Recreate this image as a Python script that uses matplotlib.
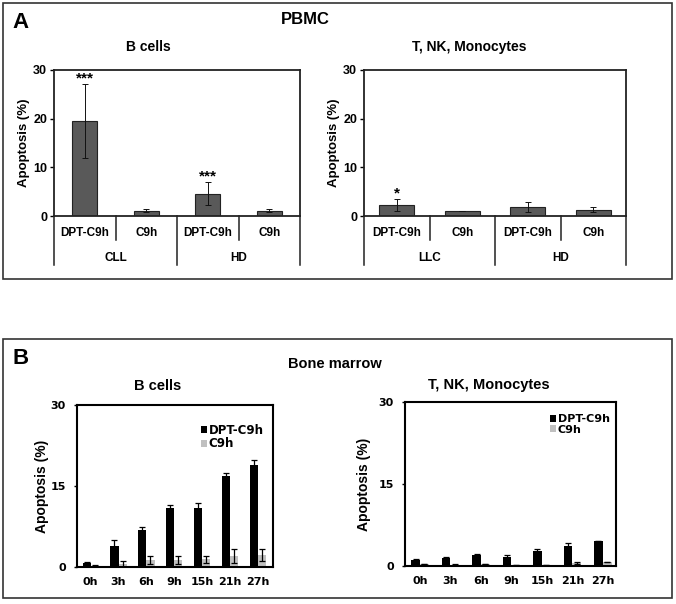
import matplotlib
matplotlib.use("Agg")
import matplotlib.pyplot as plt
from matplotlib.patches import Rectangle
import numpy as np

# ---------------- data ----------------
a_sub = ["DPT-C9h", "C9h", "DPT-C9h", "C9h"]
a_left_groups = ["CLL", "HD"]
a_right_groups = ["LLC", "HD"]
a_left_vals = [19.6, 1.1, 4.6, 1.1]
a_left_err = [7.6, 0.3, 2.3, 0.3]
a_left_stars = ["***", "", "***", ""]
a_right_vals = [2.2, 1.0, 1.8, 1.3]
a_right_err = [1.2, 0.0, 1.0, 0.5]
a_right_stars = ["*", "", "", ""]

times = ["0h", "3h", "6h", "9h", "15h", "21h", "27h"]
b_left_dpt = [0.8, 3.9, 6.9, 10.9, 10.9, 16.8, 18.8]
b_left_dpt_err = [0.1, 1.1, 0.6, 0.5, 1.0, 0.6, 1.1]
b_left_c9 = [0.2, 0.5, 1.3, 1.3, 1.4, 2.1, 2.3]
b_left_c9_err = [0.1, 0.6, 0.8, 0.7, 0.7, 1.3, 1.1]
b_right_dpt = [1.1, 1.5, 2.0, 1.7, 2.7, 3.7, 4.6]
b_right_dpt_err = [0.1, 0.1, 0.2, 0.3, 0.4, 0.5, 0.0]
b_right_c9 = [0.3, 0.2, 0.3, 0.2, 0.2, 0.5, 0.7]
b_right_c9_err = [0.0, 0.2, 0.0, 0.0, 0.0, 0.2, 0.0]

W, H = 676, 604
fig = plt.figure(figsize=(W / 100, H / 100), dpi=100)

def rect(x0, y0, x1, y1):
    return [x0 / W, 1 - y1 / H, (x1 - x0) / W, (y1 - y0) / H]

def fx(x):
    return x / W

def fy(y):
    return 1 - y / H

ARIAL = ["Liberation Sans", "DejaVu Sans"]
VERD = ["DejaVu Sans"]

# panel boxes
for (x0, y0, x1, y1) in [(3, 3, 672, 279), (3, 339, 672, 598)]:
    fig.patches.append(Rectangle((fx(x0), fy(y1)), fx(x1 - x0), (y1 - y0) / H,
                                 transform=fig.transFigure, fill=False,
                                 edgecolor="#333333", lw=1.2))

fig.text(fx(12), fy(22), "A", fontsize=16, fontweight="bold", family=ARIAL, va="center")
fig.text(fx(305), fy(19), "PBMC", fontsize=12, fontweight="bold", family=ARIAL,
         ha="center", va="center")
fig.text(fx(12), fy(358), "B", fontsize=16, fontweight="bold", family=ARIAL, va="center")
fig.text(fx(335), fy(364), "Bone marrow", fontsize=10.5, fontweight="bold", family=ARIAL,
         ha="center", va="center")


def panel_a(r, vals, errs, stars, groups, width, title, title_xy, ylab_x):
    ax = fig.add_axes(rect(*r))
    x = np.arange(len(vals))
    ax.bar(x, vals, width=width, color="#595959", edgecolor="#222222", lw=0.8, zorder=2)
    ax.errorbar(x, vals, yerr=errs, fmt="none", ecolor="#111111", elinewidth=0.7,
                capsize=2.2, capthick=0.7, zorder=3)
    for xi, v, e, s in zip(x, vals, errs, stars):
        if s:
            ax.annotate(s, (xi, v + e), xytext=(0, 4), textcoords="offset points",
                        ha="center", va="center", fontsize=11, fontweight="bold",
                        family=ARIAL)
    ax.set_xlim(-0.5, len(vals) - 0.5)
    ax.set_ylim(0, 30)
    ax.set_yticks([0, 10, 20, 30])
    ax.set_yticklabels(["0", "10", "20", "30"], family=ARIAL, fontweight="bold", fontsize=9)
    ax.set_xticks([])
    for sp in ax.spines.values():
        sp.set_linewidth(1.3)
        sp.set_color("#222222")
    ax.tick_params(axis="y", length=3, width=1, pad=2)
    tr = ax.get_xaxis_transform()
    hpx = r[3] - r[1]
    for xs in [0.5, 2.5]:
        ax.plot([xs, xs], [0, -24 / hpx], transform=tr, color="#222222", lw=1.1, clip_on=False)
    for xs in [-0.5, 1.5, 3.5]:
        ax.plot([xs, xs], [0, -49 / hpx], transform=tr, color="#222222", lw=1.1, clip_on=False)
    for xi, lab in zip(x, a_sub):
        ax.text(xi, -17 / hpx, lab, transform=tr, ha="center", va="center",
                fontsize=8.5, fontweight="bold", family=ARIAL)
    for gi, g in enumerate(groups):
        ax.text(2 * gi + 0.5, -42 / hpx, g, transform=tr, ha="center", va="center",
                fontsize=8.5, fontweight="bold", family=ARIAL)
    fig.text(fx(title_xy[0]), fy(title_xy[1]), title, fontsize=10, fontweight="bold",
             family=ARIAL, ha="center", va="center")
    fig.text(fx(ylab_x), fy((r[1] + r[3]) / 2), "Apoptosis (%)", rotation=90,
             fontsize=9.5, fontweight="bold", family=ARIAL, ha="center", va="center")
    return ax


panel_a((54, 70, 300, 216), a_left_vals, a_left_err, a_left_stars, a_left_groups, 0.4,
        "B cells", (148, 47), 24)
panel_a((364, 70, 626, 216), a_right_vals, a_right_err, a_right_stars, a_right_groups, 0.53,
        "T, NK, Monocytes", (469, 47), 334)


def panel_b(r, dpt, dpte, c9, c9e, xlim, title, title_xy, ylab_x, legend_anchor, legsize):
    ax = fig.add_axes(rect(*r))
    x = np.arange(len(dpt))
    w = 0.29
    ax.bar(x - w / 2, dpt, width=w, color="black", zorder=2, label="DPT-C9h")
    ax.bar(x + w / 2, c9, width=w, color="#c0c0c0", zorder=2, label="C9h")
    ax.errorbar(x - w / 2, dpt, yerr=dpte, fmt="none", ecolor="black", elinewidth=0.9,
                capsize=2.5, capthick=0.9, zorder=3)
    ax.errorbar(x + w / 2, c9, yerr=c9e, fmt="none", ecolor="black", elinewidth=0.9,
                capsize=2.5, capthick=0.9, zorder=3)
    ax.set_xlim(*xlim)
    ax.set_ylim(0, 30)
    ax.set_yticks([0, 15, 30])
    ax.set_yticklabels(["0", "15", "30"], family=VERD, fontweight="bold", fontsize=8)
    ax.set_xticks(x)
    ax.set_xticklabels(times, family=VERD, fontweight="bold", fontsize=8)
    ax.tick_params(axis="x", length=0, pad=7)
    ax.tick_params(axis="y", length=2, width=1, pad=6)
    for sp in ax.spines.values():
        sp.set_linewidth(1.5)
        sp.set_color("black")
    ax.legend(loc="upper left", bbox_to_anchor=legend_anchor, frameon=False,
              handlelength=0.55, handleheight=0.6, handletextpad=0.15,
              labelspacing=0.05, borderpad=0,
              prop={"family": VERD, "weight": "bold", "size": legsize})
    fig.text(fx(title_xy[0]), fy(title_xy[1]), title, fontsize=10.5, fontweight="bold",
             family=ARIAL, ha="center", va="center")
    fig.text(fx(ylab_x), fy((r[1] + r[3]) / 2), "Apoptosis (%)", rotation=90,
             fontsize=10, fontweight="bold", family=ARIAL, ha="center", va="center")
    return ax


panel_b((77, 405, 273, 567), b_left_dpt, b_left_dpt_err, b_left_c9, b_left_c9_err,
        (-0.49, 6.54), "B cells", (158, 386), 42, (0.6, 0.92), 8.5)
panel_b((405, 402, 616, 566), b_right_dpt, b_right_dpt_err, b_right_c9, b_right_c9_err,
        (-0.49, 6.43), "T, NK, Monocytes", (489, 385), 364, (0.66, 0.96), 8)

fig.savefig("out.png", dpi=100)
